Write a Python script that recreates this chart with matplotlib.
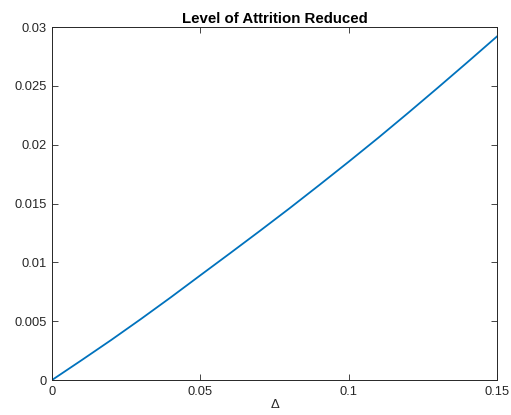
import matplotlib
matplotlib.use("Agg")
import matplotlib.pyplot as plt

plt.rcParams['font.family'] = ['Liberation Sans', 'DejaVu Sans']

delta = [0.0, 0.01, 0.02, 0.03, 0.04, 0.05, 0.06, 0.07, 0.08,
         0.09, 0.10, 0.11, 0.12, 0.13, 0.14, 0.15]
reduced = [0.0, 0.00169, 0.00341, 0.00519, 0.00702, 0.0089, 0.01077, 0.01266,
           0.01458, 0.01655, 0.01855, 0.02059, 0.02269, 0.02483, 0.0270, 0.0292]

xticks = [0, 0.05, 0.1, 0.15]
xtick_labels = ['0', '0.05', '0.1', '0.15']
yticks = [0, 0.005, 0.01, 0.015, 0.02, 0.025, 0.03]
ytick_labels = ['0', '0.005', '0.01', '0.015', '0.02', '0.025', '0.03']

dark = '#262626'

fig = plt.figure(figsize=(5.11, 4.15), dpi=100)
ax = fig.add_axes([0.1018, 0.0843, 0.8708, 0.8506])
ax.plot(delta, reduced, color='#0072BD', lw=1.3)

ax.set_xlim(0, 0.15)
ax.set_ylim(0, 0.03)
ax.set_xticks(xticks)
ax.set_xticklabels(xtick_labels)
ax.set_yticks(yticks)
ax.set_yticklabels(ytick_labels)
ax.tick_params(direction='in', length=4, width=0.6, colors=dark, labelsize=9.3,
               top=True, right=True, pad=4)
for s in ax.spines.values():
    s.set_color(dark)
    s.set_linewidth(0.7)

ax.set_title('Level of Attrition Reduced', fontsize=10.8, fontweight='bold', pad=3)
ax.set_xlabel('\u0394', fontsize=9.5, color=dark, labelpad=1)

fig.savefig('out.png', dpi=100)
